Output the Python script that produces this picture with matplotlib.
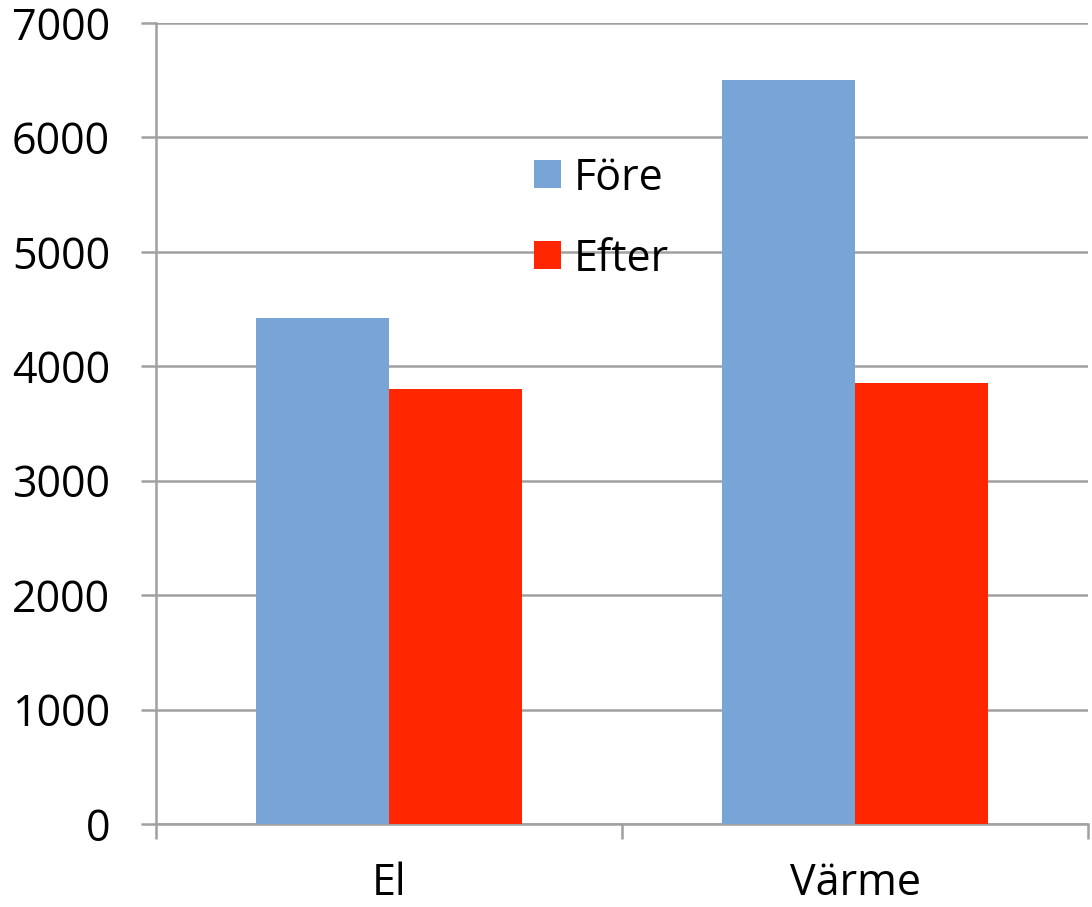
import numpy as np
import matplotlib
matplotlib.use("Agg")
import matplotlib.pyplot as plt
from matplotlib.ticker import FixedLocator

categories = ["El", "Värme"]
series_names = ["Före", "Efter"]
fore = [4420, 6500]
efter = [3800, 3850]
y_ticks = [0, 1000, 2000, 3000, 4000, 5000, 6000, 7000]

plt.rcParams['font.family'] = ['Open Sans', 'DejaVu Sans']

fig = plt.figure(figsize=(10.92, 9.07), dpi=100)
ax = fig.add_axes([156/1092, 1 - 824/907, (1088 - 156)/1092, (824 - 23)/907])

x = np.arange(len(categories))
w = 0.285
ax.bar(x - w/2, fore, w, color="#78A5D5", label=series_names[0], zorder=3)
ax.bar(x + w/2, efter, w, color="#FF2600", label=series_names[1], zorder=3)

ax.set_xlim(-0.5, len(categories) - 0.5)
ax.set_ylim(0, 7000)
ax.set_yticks(y_ticks)
ax.set_yticklabels([str(t) for t in y_ticks])
ax.yaxis.grid(True, color="#A0A0A0", linewidth=1.8, zorder=0)
ax.set_axisbelow(True)

ax.set_xticks(x)
ax.set_xticklabels(categories)
ax.xaxis.set_minor_locator(FixedLocator(np.arange(-0.5, len(categories), 1.0)))
ax.tick_params(axis="x", which="major", length=0, pad=27, labelsize=31)
ax.tick_params(axis="x", which="minor", length=11, width=1.8, color="#A0A0A0")
ax.tick_params(axis="y", length=11, width=1.8, color="#A0A0A0", labelsize=31, pad=22)

for s in ["top", "right"]:
    ax.spines[s].set_visible(False)
for s in ["left", "bottom"]:
    ax.spines[s].set_color("#A0A0A0")
    ax.spines[s].set_linewidth(1.8)

leg = ax.legend(loc="upper left", bbox_to_anchor=(534/1092, 1 - 156/907),
                bbox_transform=fig.transFigure, frameon=False, fontsize=31,
                handlelength=0.62, handleheight=0.62, handletextpad=0.3,
                labelspacing=0.85, borderpad=0, borderaxespad=0)

fig.savefig("out.png", dpi=100, facecolor="white")
